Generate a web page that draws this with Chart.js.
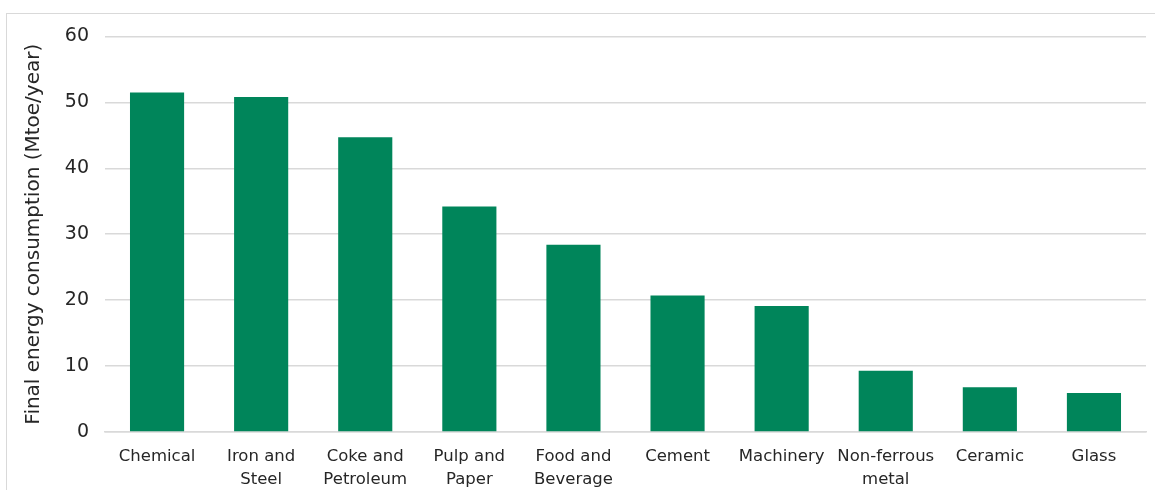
<!DOCTYPE html>
<html>
<head>
<meta charset="utf-8">
<script src="https://cdn.jsdelivr.net/npm/chart.js@4"></script>
<style>
  html, body { margin: 0; padding: 0; background: #fff; }
  #frame {
    position: absolute; left: 6px; top: 13px;
    width: 1160px; height: 500px;
    border: 1px solid #d9d9d9; box-sizing: border-box;
  }
  #wrap { position: absolute; left: 0; top: -5px; width: 1149px; height: 482px; }
</style>
</head>
<body>
<div id="frame"><div id="wrap"><canvas id="chart"></canvas></div></div>
<script>
// sectors and their final energy use, Mtoe/year
const categories = [
  'Chemical', ['Iron and', 'Steel'], ['Coke and', 'Petroleum'], ['Pulp and', 'Paper'],
  ['Food and', 'Beverage'], 'Cement', 'Machinery', ['Non-ferrous', 'metal'], 'Ceramic', 'Glass'
];
const consumption = [51.5, 50.8, 44.7, 34.2, 28.4, 20.7, 19.1, 9.3, 6.8, 5.9];
const yTicks = [0, 10, 20, 30, 40, 50, 60];

const ctx = document.getElementById('chart').getContext('2d');
const myChart = new Chart(ctx, {
  type: 'bar',
  data: {
    labels: categories,
    datasets: [{
      label: 'Final energy consumption',
      data: consumption,
      backgroundColor: '#00855a',
      borderWidth: 0,
      categoryPercentage: 1,
      barPercentage: 0.52
    }]
  },
  options: {
    responsive: true,
    maintainAspectRatio: false,
    animation: false,
    layout: { padding: { top: 3, right: 10, left: 0, bottom: 0 } },
    plugins: { legend: { display: false }, tooltip: { enabled: false } },
    scales: {
      x: {
        grid: { display: false },
        border: { color: '#d9d9d9', width: 1.5 },
        ticks: {
          color: '#262626', maxRotation: 0, autoSkip: false,
          font: { family: 'DejaVu Sans', size: 16.5, lineHeight: 1.4 }, padding: 5
        },
        afterFit: (s) => { s.height = 59; }
      },
      y: {
        min: 0, max: 60,
        afterBuildTicks: (s) => { s.ticks = yTicks.map(v => ({ value: v })); },
        grid: { color: '#d9d9d9', lineWidth: 1.5, drawTicks: false },
        border: { display: false },
        ticks: {
          color: '#262626', padding: 16,
          font: { family: 'DejaVu Sans', size: 19 }
        },
        title: {
          display: true, text: 'Final energy consumption (Mtoe/year)',
          color: '#262626', font: { family: 'DejaVu Sans', size: 20 },
          padding: { top: 15, bottom: 0 }
        },
        afterFit: (s) => { s.width = 98; }
      }
    }
  }
});
</script>
</body>
</html>
